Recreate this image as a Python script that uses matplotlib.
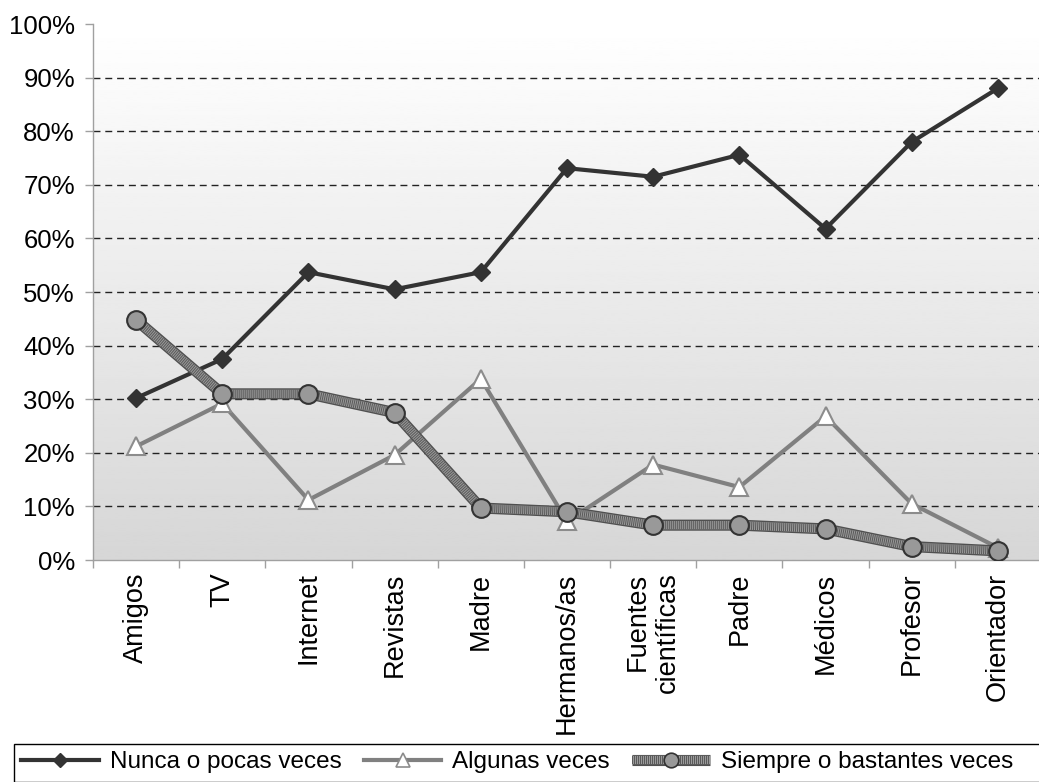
import numpy as np
import matplotlib
matplotlib.use("Agg")
import matplotlib.pyplot as plt
import matplotlib.patheffects as pe
from matplotlib.lines import Line2D
from matplotlib.patches import Rectangle
from matplotlib.ticker import FixedLocator, PercentFormatter
from matplotlib.legend_handler import HandlerTuple

plt.rcParams['font.family'] = ['Liberation Sans', 'DejaVu Sans']

categories = ["Amigos", "TV", "Internet", "Revistas", "Madre", "Hermanos/as",
              "Fuentes\ncientíficas", "Padre", "Médicos", "Profesor", "Orientador"]
nunca = [30.2, 37.5, 53.7, 50.5, 53.7, 73.1, 71.5, 75.6, 61.8, 78.0, 88.0]
algunas = [21.2, 29.2, 11.2, 19.6, 33.8, 7.2, 17.8, 13.6, 26.8, 10.5, 2.3]
siempre = [44.8, 31.0, 31.0, 27.5, 9.7, 9.0, 6.5, 6.5, 5.8, 2.5, 1.7]
series_labels = ["Nunca o pocas veces", "Algunas veces", "Siempre o bastantes veces"]

W, H = 1039, 782
fig = plt.figure(figsize=(W / 100, H / 100), dpi=100)
ax = fig.add_axes([93 / W, 1 - 560 / H, 948 / W, 536 / H])

x = np.arange(len(categories))
ax.set_xlim(-0.5, len(categories) - 0.5)
ax.set_ylim(0, 100)

# vertical grey gradient behind the plot area
grad = np.linspace(0.84, 1.0, 256).reshape(-1, 1)
ax.imshow(grad, extent=(-0.5, len(categories) - 0.5, 0, 100), origin='lower',
          aspect='auto', cmap='gray', vmin=0, vmax=1, zorder=0)

for yv in range(10, 100, 10):
    ax.axhline(yv, color='#222222', lw=1.0, dashes=(5, 3.5), zorder=1)

# series 1: dark line with diamonds
ax.plot(x, nunca, color='#333333', lw=3, marker='D', markersize=9.5,
        markerfacecolor='#333333', markeredgecolor='#333333', zorder=3)

# series 2: grey line with white triangles
ax.plot(x, algunas, color='#808080', lw=3, marker='^', markersize=13,
        markerfacecolor='white', markeredgecolor='#8c8c8c',
        markeredgewidth=1.5, zorder=4)

# series 3: thick striped line with grey circles
stripe_base = dict(color='#9a9a9a', lw=6, solid_capstyle='butt',
                   path_effects=[pe.Stroke(linewidth=8, foreground='#505050'), pe.Normal()])
stripe_top = dict(color='#5a5a5a', lw=6, linestyle=(0, (0.12, 0.12)),
                  dash_capstyle='butt')
ax.plot(x, siempre, zorder=5, **stripe_base)
ax.plot(x, siempre, zorder=5.1, **stripe_top)
ax.plot(x, siempre, linestyle='none', marker='o', markersize=13.5,
        markerfacecolor='#999999', markeredgecolor='#333333',
        markeredgewidth=1.5, zorder=6)

for s in ['top', 'right']:
    ax.spines[s].set_visible(False)
for s in ['left', 'bottom']:
    ax.spines[s].set_color('#a0a0a0')
    ax.spines[s].set_linewidth(1)

ax.yaxis.set_major_locator(FixedLocator(range(0, 101, 10)))
ax.yaxis.set_major_formatter(PercentFormatter(decimals=0))
ax.tick_params(axis='y', direction='out', length=5.5, width=1, color='#a0a0a0',
               labelsize=18.5, pad=7.5)

ax.set_xticks(x)
ax.set_xticklabels(categories, rotation=90, ha='center', va='top',
                   multialignment='right')
ax.set_xticks(np.arange(-0.5, len(categories), 1), minor=True)
ax.tick_params(axis='x', which='major', length=0, labelsize=19.5, pad=9)
ax.tick_params(axis='x', which='minor', direction='out', length=5.5, width=1,
               color='#a0a0a0')

# legend keys with smaller markers
h1 = Line2D([], [], color='#333333', lw=3, marker='D', markersize=7,
            markerfacecolor='#333333', markeredgecolor='#333333')
h2 = Line2D([], [], color='#808080', lw=3, marker='^', markersize=9.5,
            markerfacecolor='white', markeredgecolor='#8c8c8c', markeredgewidth=1.2)
h3a = Line2D([], [], **stripe_base)
h3b = Line2D([], [], **stripe_top)
h3c = Line2D([], [], linestyle='none', marker='o', markersize=10.5,
             markerfacecolor='#999999', markeredgecolor='#333333', markeredgewidth=1.2)

# legend frame runs past the right edge of the figure
fig.patches.append(Rectangle((14 / W, 0), 1.2, (H - 744) / H,
                             transform=fig.transFigure, facecolor='white',
                             edgecolor='black', lw=1, zorder=0))

fig.legend([h1, h2, (h3a, h3b, h3c)], series_labels,
           handler_map={tuple: HandlerTuple(ndivide=1, pad=0)},
           loc='upper left', bbox_to_anchor=(14 / W, 1 - 744 / H),
           ncol=3, frameon=False, borderaxespad=0, borderpad=0.3,
           handlelength=3.2, handletextpad=0.45, columnspacing=0.9,
           fontsize=17.5)

fig.savefig("out.png", dpi=100)
